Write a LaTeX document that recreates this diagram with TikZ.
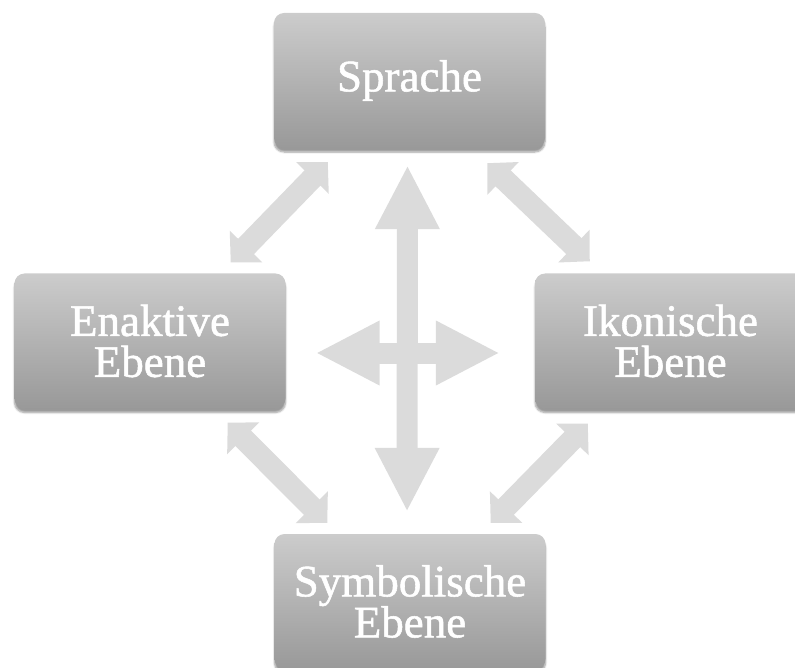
\documentclass[tikz,border=0pt]{standalone}
\usepackage{fontspec}
\setmainfont{Liberation Serif}
\newfontfamily\boxfont[FakeBold=1.2]{Liberation Serif}
\usetikzlibrary{positioning,arrows.meta,shadows.blur}

\begin{document}
\begin{tikzpicture}[
    x=1pt, y=-1pt,
    level/.style={%
      rectangle,
      rounded corners=10pt,
      top color=black!20,
      bottom color=black!40,
      minimum width=271pt,
      minimum height=135pt,
      inner sep=0pt,
      align=center,
      text=white,
      font=\boxfont\fontsize{45}{41}\selectfont,
      blur shadow={shadow xshift=0pt, shadow yshift=-4pt, shadow opacity=40, shadow blur steps=6},
    },
    bigarrow/.style={%
      draw=black!14,
      line width=21pt,
      arrows={Triangle[width=60pt,length=64pt]-Triangle[width=60pt,length=64pt]},
    },
    diagarrow/.style={%
      draw=black!14,
      line width=22pt,
      arrows={Triangle[width=44pt,length=22pt]-Triangle[width=44pt,length=22pt]},
    },
  ]

    \useasboundingbox (0,0) rectangle (795,668);

    \node [level] (sprache) at (409.5,80.5) {Sprache};
    \node [level] (enaktiv) at (150,341) {Enaktive\\Ebene};
    \node [level] (ikonisch) at (670.5,341) {Ikonische\\Ebene};
    \node [level] (symbol) at (410,601.5) {Symbolische\\Ebene};

    \draw [diagarrow] ([shift={(54,14)}]sprache.south west) -- ([shift={(-55,-11)}]enaktiv.north east);
    \draw [diagarrow] ([shift={(-58,15)}]sprache.south east) -- ([shift={(55,-12)}]ikonisch.north west);
    \draw [diagarrow] ([shift={(-58,14)}]enaktiv.south east) -- ([shift={(53,-11)}]symbol.north west);
    \draw [diagarrow] ([shift={(53,15)}]ikonisch.south west) -- ([shift={(-55,-11)}]symbol.north east);

    \draw [bigarrow, shorten <=17pt, shorten >=22pt] ([xshift=-2pt]sprache.south) -- ([xshift=-3pt]symbol.north);
    \draw [bigarrow, shorten <=30pt, shorten >=35pt] ([yshift=-12pt]enaktiv.east) -- ([yshift=-12pt]ikonisch.west);
\end{tikzpicture}
\end{document}
